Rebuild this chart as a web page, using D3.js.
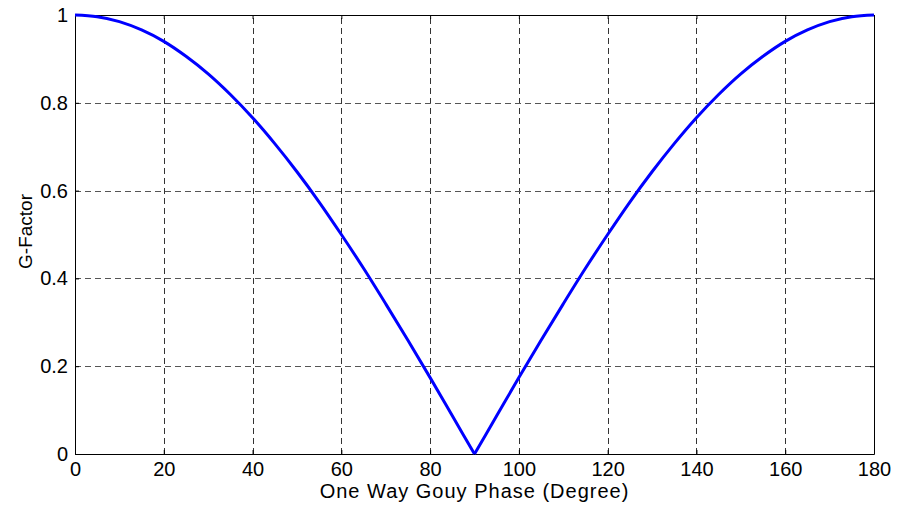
<!DOCTYPE html>
<html>
<head>
<meta charset="utf-8">
<script src="https://cdn.jsdelivr.net/npm/d3@7"></script>
<style>
  body { margin: 0; background: #fff; }
  text { font-family: "Liberation Sans", Arial, sans-serif; fill: #000; }
</style>
</head>
<body>
<div id="chart"></div>
<script>
// phase in degrees and the G-factor
const phase = [0, 5, 10, 15, 20, 25, 30, 35, 40, 45, 50, 55, 60, 65, 70, 75, 80, 85, 90,
  95, 100, 105, 110, 115, 120, 125, 130, 135, 140, 145, 150, 155, 160, 165, 170, 175, 180];
const gFactor = [1, 0.996, 0.985, 0.966, 0.94, 0.906, 0.866, 0.819, 0.766, 0.707, 0.643, 0.574, 0.5,
  0.423, 0.342, 0.259, 0.174, 0.087, 0, 0.087, 0.174, 0.259, 0.342, 0.423, 0.5, 0.574, 0.643,
  0.707, 0.766, 0.819, 0.866, 0.906, 0.94, 0.966, 0.985, 0.996, 1];
const xTicks = [0, 20, 40, 60, 80, 100, 120, 140, 160, 180];
const yTicks = [0, 0.2, 0.4, 0.6, 0.8, 1];

const width = 906, height = 506;
const margins = { top: 15, bottom: 52, left: 75, right: 32 };

const svg = d3.select("#chart").append("svg")
  .attr("width", width)
  .attr("height", height);

const xScale = d3.scaleLinear()
  .domain([0, 180])
  .range([margins.left, width - margins.right]);

const yScale = d3.scaleLinear()
  .domain([0, 1])
  .range([height - margins.bottom, margins.top]);

const x0 = xScale.range()[0], x1 = xScale.range()[1];
const y0 = yScale.range()[0], y1 = yScale.range()[1];

// grid
const grid = svg.append("g")
  .attr("stroke", "#333")
  .attr("stroke-width", 1)
  .attr("stroke-dasharray", "6,4");

grid.selectAll(".vg")
  .data(xTicks.slice(1, -1))
  .join("line")
  .attr("x1", d => Math.round(xScale(d)) + 0.5)
  .attr("x2", d => Math.round(xScale(d)) + 0.5)
  .attr("y1", y0)
  .attr("y2", y1);

grid.selectAll(".hg")
  .data(yTicks.slice(1, -1))
  .join("line")
  .attr("stroke", "#555")
  .attr("y1", d => Math.round(yScale(d)) + 0.5)
  .attr("y2", d => Math.round(yScale(d)) + 0.5)
  .attr("x1", x0)
  .attr("x2", x1);

// axes with inward ticks
const xAxis = d3.axisBottom(xScale).tickValues(xTicks).tickSize(-4).tickPadding(8).tickSizeOuter(0);
const yAxis = d3.axisLeft(yScale).tickValues(yTicks).tickSize(-4).tickPadding(7).tickSizeOuter(0)
  .tickFormat(d => d === 0 || d === 1 ? d : d3.format(".1f")(d));

svg.append("g")
  .attr("transform", `translate(0,${y0})`)
  .call(xAxis)
  .call(g => g.selectAll("text").attr("font-size", 20).attr("dy", "0.72em"));

svg.append("g")
  .attr("transform", `translate(${x0},0)`)
  .call(yAxis)
  .call(g => g.selectAll("text").attr("font-size", 20));

svg.append("g")
  .attr("transform", `translate(0,${y1})`)
  .call(d3.axisTop(xScale).tickValues(xTicks).tickSize(-4).tickFormat("").tickSizeOuter(0));

svg.append("g")
  .attr("transform", `translate(${x1},0)`)
  .call(d3.axisRight(yScale).tickValues(yTicks).tickSize(-4).tickFormat("").tickSizeOuter(0));

svg.selectAll(".domain").attr("stroke", "#000");
svg.selectAll(".tick line").attr("stroke", "#000");

// curve, drawn as two smooth halves so the dip stays sharp
const line = d3.line()
  .curve(d3.curveMonotoneX)
  .x(i => xScale(phase[i]))
  .y(i => yScale(gFactor[i]));

const dip = gFactor.indexOf(d3.min(gFactor));
const halves = [d3.range(0, dip + 1), d3.range(dip, gFactor.length)];

svg.append("g")
  .selectAll("path")
  .data(halves)
  .join("path")
  .attr("fill", "none")
  .attr("stroke", "#0000ff")
  .attr("stroke-width", 3)
  .attr("stroke-linejoin", "round")
  .attr("d", line);

// labels
svg.append("text")
  .attr("x", (x0 + x1) / 2)
  .attr("y", 498)
  .attr("text-anchor", "middle")
  .attr("font-size", 20)
  .attr("letter-spacing", 1)
  .text("One Way Gouy Phase (Degree)");

svg.append("text")
  .attr("transform", `translate(32,${(y0 + y1) / 2 - 3}) rotate(-90)`)
  .attr("text-anchor", "middle")
  .attr("font-size", 19)
  .text("G-Factor");
</script>
</body>
</html>
